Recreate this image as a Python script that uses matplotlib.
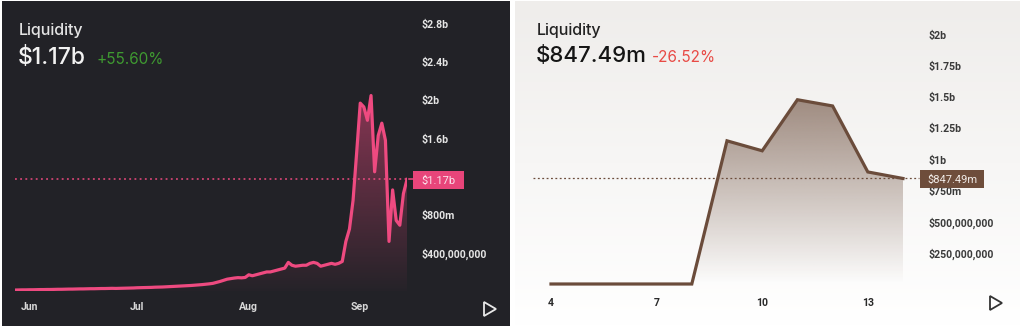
import numpy as np
import pandas as pd
import matplotlib.pyplot as plt
import matplotlib.dates as mdates
from matplotlib.colors import to_rgb
from matplotlib.patches import Rectangle, Polygon

plt.rcParams['font.family'] = ['Inter', 'DejaVu Sans']
TICK_FONT = ['Roboto', 'DejaVu Sans']

# dark panel: daily liquidity in billions of USD
dark_dates = pd.date_range('2023-05-28', '2023-09-14', freq='D')
dark_values = [
    0.010, 0.011, 0.012, 0.012,
    # June
    0.013, 0.013, 0.014, 0.015, 0.015, 0.016, 0.016, 0.017, 0.018, 0.018,
    0.019, 0.020, 0.020, 0.021, 0.022, 0.022, 0.023, 0.024, 0.024, 0.025,
    0.026, 0.026, 0.027, 0.028, 0.027, 0.028, 0.029, 0.030, 0.031, 0.032,
    # July
    0.034, 0.035, 0.036, 0.037, 0.038, 0.040, 0.041, 0.042, 0.044, 0.046,
    0.048, 0.050, 0.052, 0.054, 0.056, 0.058, 0.061, 0.064, 0.067, 0.071,
    0.075, 0.080, 0.090, 0.100, 0.112, 0.124, 0.130, 0.136, 0.140, 0.138,
    0.142,
    # August
    0.170, 0.160, 0.170, 0.180, 0.190, 0.200, 0.200, 0.210, 0.220, 0.230,
    0.240, 0.300, 0.270, 0.260, 0.265, 0.270, 0.270, 0.290, 0.300, 0.290,
    0.260, 0.270, 0.280, 0.290, 0.280, 0.290, 0.310, 0.520, 0.650, 0.950,
    1.450,
    # September
    1.970, 1.930, 1.790, 2.050, 1.250, 1.630, 1.760, 1.580, 0.520, 1.060,
    0.740, 0.690, 1.020, 1.170,
]
dark_current = 1.17
dark_ticks = [0.4, 0.8, 1.6, 2.0, 2.4, 2.8]
dark_tick_labels = ['$400,000,000', '$800m', '$1.6b', '$2b', '$2.4b', '$2.8b']
dark_months = pd.to_datetime(['2023-06-01', '2023-07-01', '2023-08-01', '2023-09-01'])
dark_month_labels = ['Jun', 'Jul', 'Aug', 'Sep']

# light panel: liquidity per day of month, billions of USD
light_days = [4, 5, 6, 7, 8, 9, 10, 11, 12, 13, 14]
light_values = [0.0, 0.0, 0.0, 0.0, 0.0, 1.15, 1.07, 1.48, 1.43, 0.90, 0.84749]
light_current = 0.84749
light_ticks = [0.25, 0.5, 0.75, 1.0, 1.25, 1.5, 1.75, 2.0]
light_tick_labels = ['$250,000,000', '$500,000,000', '$750m', '$1b', '$1.25b',
                     '$1.5b', '$1.75b', '$2b']
light_day_ticks = [4, 7, 10, 13]

W, H = 1024, 328
fig = plt.figure(figsize=(W / 100, H / 100), dpi=100)
fig.patch.set_facecolor('white')


def add_ax(x0, y0, x1, y1, **kw):
    # pixel box (from top-left) -> figure axes
    return fig.add_axes([x0 / W, 1 - y1 / H, (x1 - x0) / W, (y1 - y0) / H], **kw)


def gradient_fill(ax, x, y, color, a_top, a_bot, ytop):
    poly = ax.fill_between(x, y, 0, color='none', lw=0)
    grad = np.zeros((256, 1, 4))
    grad[:, :, :3] = to_rgb(color)
    grad[:, 0, 3] = np.linspace(a_bot, a_top, 256)
    im = ax.imshow(grad, aspect='auto', origin='lower',
                   extent=[min(x), max(x), 0, ytop], zorder=1, interpolation='bilinear')
    im.set_clip_path(poly.get_paths()[0], transform=ax.transData)


def px(x, y):
    return x / W, 1 - y / H


# ---------- panel backgrounds ----------
bg_dark = add_ax(2, 1, 510, 326)
bg_dark.set_facecolor('#222227')
bg_dark.set_xticks([]); bg_dark.set_yticks([])
for s in bg_dark.spines.values():
    s.set_visible(False)

bg_light = add_ax(515, 1, 1020, 326)
shade = np.linspace(0, 1, 256)[:, None, None]
top_col = np.array(to_rgb('#efedeb'))
bg_img = top_col + (1 - top_col) * shade
bg_light.imshow(bg_img, aspect='auto', extent=[0, 1, 0, 1], origin='upper')
bg_light.set_xlim(0, 1); bg_light.set_ylim(0, 1)
bg_light.set_xticks([]); bg_light.set_yticks([])
for s in bg_light.spines.values():
    s.set_visible(False)

# ---------- dark chart ----------
pink = '#ee4a80'
ax1 = add_ax(15, 24, 407, 291)
ax1.patch.set_alpha(0)
xd = mdates.date2num(dark_dates)
gradient_fill(ax1, xd, dark_values, pink, 0.5, 0.02, max(dark_values))
ax1.plot(xd, dark_values, color=pink, lw=2.3, zorder=3, solid_joinstyle='round')
ax1.set_xlim(xd[0], xd[-1])
ax1.set_ylim(0, 2.8)
ax1.yaxis.tick_right()
ax1.set_yticks(dark_ticks, dark_tick_labels)
ax1.set_xticks(mdates.date2num(dark_months), dark_month_labels)
ax1.tick_params(axis='y', length=0, pad=10.5, labelsize=7.6, labelcolor='#e6e6e6')
ax1.tick_params(axis='x', length=0, pad=8, labelsize=7.6, labelcolor='#d8d8d8')
for lab in ax1.get_xticklabels() + ax1.get_yticklabels():
    lab.set_fontweight('bold')
    lab.set_family(TICK_FONT)
for s in ax1.spines.values():
    s.set_visible(False)

# current value marker
y_cur = 291 - dark_current / 2.8 * 267
fig.lines.append(plt.Line2D([15 / W, 407 / W], [1 - y_cur / H] * 2, transform=fig.transFigure,
                            color=pink, lw=1.1, ls=(0, (1.2, 2.2))))
fig.lines.append(plt.Line2D([409 / W, 413 / W], [1 - y_cur / H] * 2, transform=fig.transFigure,
                            color=pink, lw=1.1))
fig.patches.append(Rectangle(px(413, 189), 51 / W, 18 / H, transform=fig.transFigure,
                             facecolor='#e8457a', edgecolor='none'))
fig.text(*px(438.5, 180.5), f'${dark_current:.2f}b', color='#fbe3ec', fontsize=8,
         family=TICK_FONT, ha='center', va='center')

fig.text(*px(19, 31), 'Liquidity', color='#e4e4e4', fontsize=11.5, va='center',
         fontweight='medium')
fig.text(*px(18, 58), '$1.17b', color='#f2f2f2', fontsize=16.5, va='center',
         fontweight='medium')
fig.text(*px(96, 60), '+55.60%', color='#3f9a31', fontsize=11, va='center')

fig.patches.append(Polygon([px(484, 302), px(484, 316), px(496, 309)], closed=True,
                           transform=fig.transFigure, facecolor='none',
                           edgecolor='#e8e8e8', lw=1.3))

# ---------- light chart ----------
brown = '#6b4c3b'
ax2 = add_ax(551, 35, 903, 284)
ax2.patch.set_alpha(0)
gradient_fill(ax2, light_days, light_values, brown, 0.62, 0.0, max(light_values))
ax2.plot(light_days, light_values, color=brown, lw=2.3, zorder=3, clip_on=False,
         solid_joinstyle='miter')
ax2.set_xlim(light_days[0], light_days[-1])
ax2.set_ylim(0, 2.0)
ax2.yaxis.tick_right()
ax2.set_yticks(light_ticks, light_tick_labels)
ax2.set_xticks(light_day_ticks, [str(d) for d in light_day_ticks])
ax2.tick_params(axis='y', length=0, pad=18.5, labelsize=7.6, labelcolor='#3a3a3a')
ax2.tick_params(axis='x', length=0, pad=10, labelsize=7.6, labelcolor='#2a2a2a')
for lab in ax2.get_xticklabels() + ax2.get_yticklabels():
    lab.set_fontweight('bold')
    lab.set_family(TICK_FONT)
for s in ax2.spines.values():
    s.set_visible(False)

y_cur2 = 284 - light_current / 2.0 * 249
fig.lines.append(plt.Line2D([533 / W, 903 / W], [1 - y_cur2 / H] * 2, transform=fig.transFigure,
                            color=brown, lw=0.9, ls=(0, (1.5, 2.0))))
fig.lines.append(plt.Line2D([905 / W, 919 / W], [1 - y_cur2 / H] * 2, transform=fig.transFigure,
                            color=brown, lw=0.9, ls=(0, (1.5, 2.0))))
fig.patches.append(Rectangle(px(920, 188), 64 / W, 18 / H, transform=fig.transFigure,
                             facecolor='#6e4d3b', edgecolor='none'))
fig.text(*px(952, 179.5), f'${light_current * 1000:.2f}m', color='#f1ebe7', fontsize=8,
         family=TICK_FONT, ha='center', va='center')

fig.text(*px(537, 30), 'Liquidity', color='#222222', fontsize=11.5, va='center',
         fontweight='medium')
fig.text(*px(536, 56), '$847.49m', color='#151515', fontsize=16, va='center',
         fontweight='medium')
fig.text(*px(652, 58), '-26.52%', color='#e84a45', fontsize=11, va='center')

fig.patches.append(Polygon([px(990, 296), px(990, 310), px(1002, 303)], closed=True,
                           transform=fig.transFigure, facecolor='none',
                           edgecolor='#333333', lw=1.3))

fig.savefig('out.png', dpi=100)
